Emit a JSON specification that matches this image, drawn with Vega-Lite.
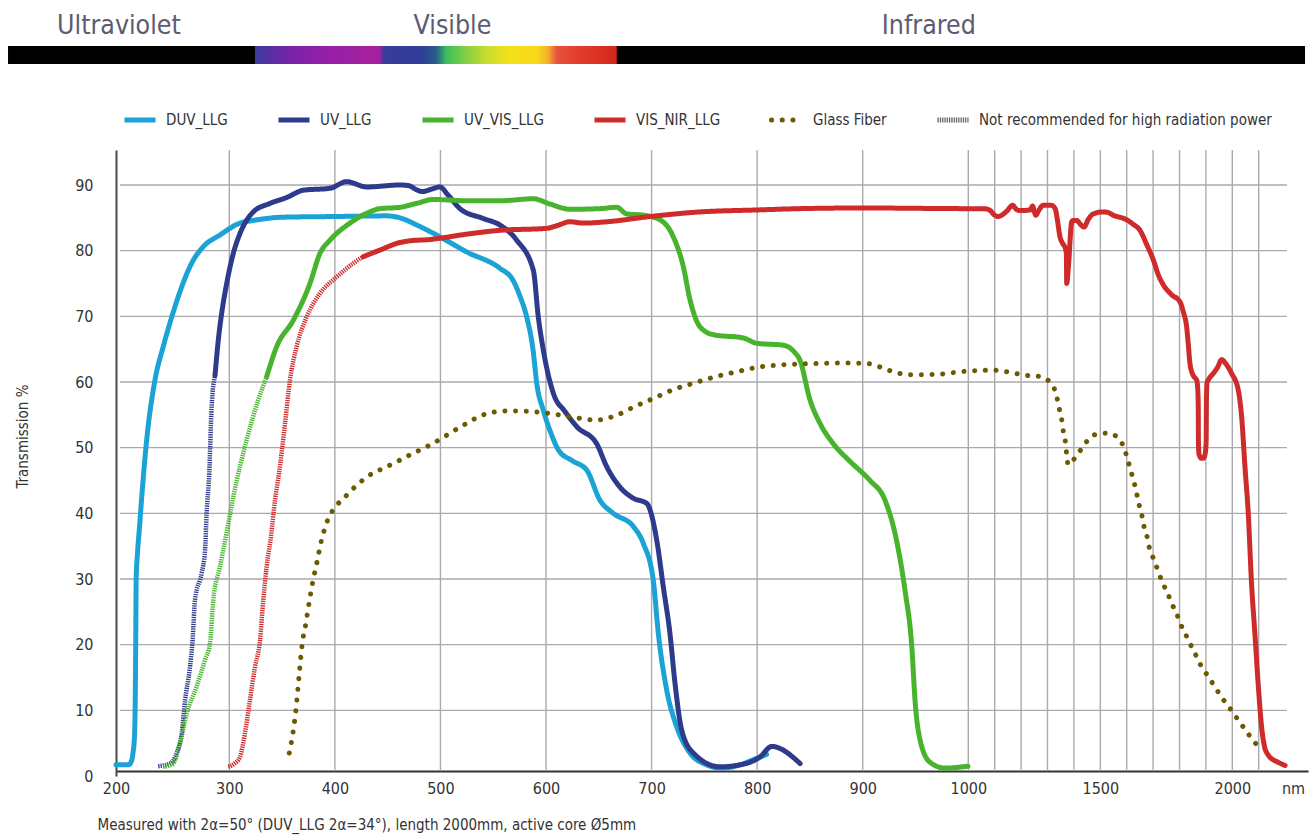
{
  "$schema": "https://vega.github.io/schema/vega-lite/v6.json",
  "autosize": {"type": "none"},
  "padding": {"left": 116, "top": 150, "right": 4, "bottom": 60},
  "width": 1192,
  "height": 626,
  "background": "white",
  "config": {"view": {"stroke": null}},
  "datasets": {
    "gridv": [{"nm":300},{"nm":400},{"nm":500},{"nm":600},{"nm":700},{"nm":800},{"nm":900},{"nm":1000},{"nm":1100},{"nm":1200},{"nm":1300},{"nm":1400},{"nm":1500},{"nm":1600},{"nm":1700},{"nm":1800},{"nm":1900},{"nm":2000},{"nm":2100}],
    "gridh": [{"pct":10},{"pct":20},{"pct":30},{"pct":40},{"pct":50},{"pct":60},{"pct":70},{"pct":80},{"pct":90}],
    "bar": [{"from_nm":104.7,"to_nm":2275.7}],
    "spectrum": [{"from_nm":324.3,"to_nm":667}],
    "regions": [{"label":"Ultraviolet","nm":202.6},{"label":"Visible","nm":511.4},{"label":"Infrared","nm":962.6}],
    "curves": [
      {"series":"DUV_LLG","seg":"solid","nm":200,"pct":1.7},{"series":"DUV_LLG","seg":"solid","nm":211,"pct":1.7},{"series":"DUV_LLG","seg":"solid","nm":213.5,"pct":2.2},{"series":"DUV_LLG","seg":"solid","nm":215,"pct":3.5},{"series":"DUV_LLG","seg":"solid","nm":216.3,"pct":6},{"series":"DUV_LLG","seg":"solid","nm":217,"pct":12},{"series":"DUV_LLG","seg":"solid","nm":217.4,"pct":20},{"series":"DUV_LLG","seg":"solid","nm":217.8,"pct":30},{"series":"DUV_LLG","seg":"solid","nm":219,"pct":34},{"series":"DUV_LLG","seg":"solid","nm":220.8,"pct":38},{"series":"DUV_LLG","seg":"solid","nm":222.5,"pct":42},{"series":"DUV_LLG","seg":"solid","nm":227.1,"pct":51.2},{"series":"DUV_LLG","seg":"solid","nm":234.4,"pct":60.3},{"series":"DUV_LLG","seg":"solid","nm":241.7,"pct":65.4},{"series":"DUV_LLG","seg":"solid","nm":249.2,"pct":69.9},{"series":"DUV_LLG","seg":"solid","nm":258,"pct":74.5},{"series":"DUV_LLG","seg":"solid","nm":266.8,"pct":78.1},{"series":"DUV_LLG","seg":"solid","nm":277,"pct":80.6},{"series":"DUV_LLG","seg":"solid","nm":291.8,"pct":82.4},{"series":"DUV_LLG","seg":"solid","nm":310.1,"pct":84.2},{"series":"DUV_LLG","seg":"solid","nm":322.7,"pct":84.6},{"series":"DUV_LLG","seg":"solid","nm":351.2,"pct":85.1},{"series":"DUV_LLG","seg":"solid","nm":400,"pct":85.2},{"series":"DUV_LLG","seg":"solid","nm":449,"pct":85.3},{"series":"DUV_LLG","seg":"solid","nm":461.4,"pct":85},{"series":"DUV_LLG","seg":"solid","nm":480.3,"pct":83.7},{"series":"DUV_LLG","seg":"solid","nm":499.6,"pct":82.1},{"series":"DUV_LLG","seg":"solid","nm":524.9,"pct":79.8},{"series":"DUV_LLG","seg":"solid","nm":556.4,"pct":77.3},{"series":"DUV_LLG","seg":"solid","nm":568.7,"pct":75.5},{"series":"DUV_LLG","seg":"solid","nm":575.5,"pct":73},{"series":"DUV_LLG","seg":"solid","nm":581.7,"pct":69.9},{"series":"DUV_LLG","seg":"solid","nm":587.7,"pct":64.9},{"series":"DUV_LLG","seg":"solid","nm":591.2,"pct":59.8},{"series":"DUV_LLG","seg":"solid","nm":597.4,"pct":55.7},{"series":"DUV_LLG","seg":"solid","nm":604,"pct":52.5},{"series":"DUV_LLG","seg":"solid","nm":612,"pct":49.6},{"series":"DUV_LLG","seg":"solid","nm":625,"pct":48},{"series":"DUV_LLG","seg":"solid","nm":638.5,"pct":46.6},{"series":"DUV_LLG","seg":"solid","nm":651.1,"pct":42},{"series":"DUV_LLG","seg":"solid","nm":663.7,"pct":40},{"series":"DUV_LLG","seg":"solid","nm":682.7,"pct":38},{"series":"DUV_LLG","seg":"solid","nm":692.2,"pct":35.4},{"series":"DUV_LLG","seg":"solid","nm":701.6,"pct":29.8},{"series":"DUV_LLG","seg":"solid","nm":706.4,"pct":21.7},{"series":"DUV_LLG","seg":"solid","nm":714.3,"pct":13.1},{"series":"DUV_LLG","seg":"solid","nm":723.8,"pct":7.5},{"series":"DUV_LLG","seg":"solid","nm":736.4,"pct":3.5},{"series":"DUV_LLG","seg":"solid","nm":752.2,"pct":1.7},{"series":"DUV_LLG","seg":"solid","nm":766.4,"pct":1.2},{"series":"DUV_LLG","seg":"solid","nm":783.8,"pct":1.7},{"series":"DUV_LLG","seg":"solid","nm":799.6,"pct":2.7},{"series":"DUV_LLG","seg":"solid","nm":809,"pct":3.3},

      {"series":"UV_LLG","seg":"dashed","nm":237.3,"pct":1.5},{"series":"UV_LLG","seg":"dashed","nm":247.7,"pct":1.9},{"series":"UV_LLG","seg":"dashed","nm":253.6,"pct":3.5},{"series":"UV_LLG","seg":"dashed","nm":258,"pct":6.5},{"series":"UV_LLG","seg":"dashed","nm":261,"pct":11.6},{"series":"UV_LLG","seg":"dashed","nm":265.3,"pct":16.6},{"series":"UV_LLG","seg":"dashed","nm":267.6,"pct":20.7},{"series":"UV_LLG","seg":"dashed","nm":269.7,"pct":26.8},{"series":"UV_LLG","seg":"dashed","nm":275.6,"pct":30.9},{"series":"UV_LLG","seg":"dashed","nm":278.6,"pct":34.4},{"series":"UV_LLG","seg":"dashed","nm":280,"pct":40},{"series":"UV_LLG","seg":"dashed","nm":282.3,"pct":46.1},{"series":"UV_LLG","seg":"dashed","nm":284.4,"pct":56.2},{"series":"UV_LLG","seg":"dashed","nm":287.4,"pct":61},
      {"series":"UV_LLG","seg":"solid","nm":287.4,"pct":61},{"series":"UV_LLG","seg":"solid","nm":290.3,"pct":66.4},{"series":"UV_LLG","seg":"solid","nm":293.3,"pct":70.5},{"series":"UV_LLG","seg":"solid","nm":297.7,"pct":75},{"series":"UV_LLG","seg":"solid","nm":303.8,"pct":79.6},{"series":"UV_LLG","seg":"solid","nm":310.1,"pct":82.6},{"series":"UV_LLG","seg":"solid","nm":322.7,"pct":85.9},{"series":"UV_LLG","seg":"solid","nm":338.6,"pct":87.2},{"series":"UV_LLG","seg":"solid","nm":354.4,"pct":88.1},{"series":"UV_LLG","seg":"solid","nm":370.1,"pct":89.2},{"series":"UV_LLG","seg":"solid","nm":395.4,"pct":89.5},{"series":"UV_LLG","seg":"solid","nm":411.2,"pct":90.5},{"series":"UV_LLG","seg":"solid","nm":430.2,"pct":89.7},{"series":"UV_LLG","seg":"solid","nm":461.7,"pct":90},{"series":"UV_LLG","seg":"solid","nm":470,"pct":89.9},{"series":"UV_LLG","seg":"solid","nm":477,"pct":89.3},{"series":"UV_LLG","seg":"solid","nm":483,"pct":89},{"series":"UV_LLG","seg":"solid","nm":492,"pct":89.4},{"series":"UV_LLG","seg":"solid","nm":499.6,"pct":89.7},{"series":"UV_LLG","seg":"solid","nm":507,"pct":88.5},{"series":"UV_LLG","seg":"solid","nm":518.5,"pct":86.4},{"series":"UV_LLG","seg":"solid","nm":540.6,"pct":84.9},{"series":"UV_LLG","seg":"solid","nm":556.4,"pct":83.9},{"series":"UV_LLG","seg":"solid","nm":572.2,"pct":81.6},{"series":"UV_LLG","seg":"solid","nm":588,"pct":77},{"series":"UV_LLG","seg":"solid","nm":592.7,"pct":69.9},{"series":"UV_LLG","seg":"solid","nm":597.4,"pct":64.9},{"series":"UV_LLG","seg":"solid","nm":606.9,"pct":58.3},{"series":"UV_LLG","seg":"solid","nm":618,"pct":55.5},{"series":"UV_LLG","seg":"solid","nm":629.1,"pct":53.2},{"series":"UV_LLG","seg":"solid","nm":648,"pct":50.6},{"series":"UV_LLG","seg":"solid","nm":657.5,"pct":47.1},{"series":"UV_LLG","seg":"solid","nm":670,"pct":44},{"series":"UV_LLG","seg":"solid","nm":682.7,"pct":42.3},{"series":"UV_LLG","seg":"solid","nm":695.4,"pct":41.5},{"series":"UV_LLG","seg":"solid","nm":704.9,"pct":35.9},{"series":"UV_LLG","seg":"solid","nm":711.1,"pct":28.8},{"series":"UV_LLG","seg":"solid","nm":717.4,"pct":21.7},{"series":"UV_LLG","seg":"solid","nm":722.2,"pct":14.1},{"series":"UV_LLG","seg":"solid","nm":728.5,"pct":7},{"series":"UV_LLG","seg":"solid","nm":739.5,"pct":3.5},{"series":"UV_LLG","seg":"solid","nm":764.8,"pct":1.4},{"series":"UV_LLG","seg":"solid","nm":783.8,"pct":1.7},{"series":"UV_LLG","seg":"solid","nm":802.7,"pct":2.9},{"series":"UV_LLG","seg":"solid","nm":813.8,"pct":4.5},{"series":"UV_LLG","seg":"solid","nm":840.7,"pct":1.9},

      {"series":"UV_VIS_LLG","seg":"dashed","nm":241.7,"pct":1.4},{"series":"UV_VIS_LLG","seg":"dashed","nm":250,"pct":1.8},{"series":"UV_VIS_LLG","seg":"dashed","nm":256.5,"pct":5},{"series":"UV_VIS_LLG","seg":"dashed","nm":262.4,"pct":9.5},{"series":"UV_VIS_LLG","seg":"dashed","nm":271.1,"pct":13.6},{"series":"UV_VIS_LLG","seg":"dashed","nm":278.6,"pct":17.7},{"series":"UV_VIS_LLG","seg":"dashed","nm":283,"pct":20.2},{"series":"UV_VIS_LLG","seg":"dashed","nm":285.9,"pct":26.8},{"series":"UV_VIS_LLG","seg":"dashed","nm":291.8,"pct":31.9},{"series":"UV_VIS_LLG","seg":"dashed","nm":299.2,"pct":38.5},{"series":"UV_VIS_LLG","seg":"dashed","nm":303.8,"pct":42.5},{"series":"UV_VIS_LLG","seg":"dashed","nm":316.5,"pct":51.2},{"series":"UV_VIS_LLG","seg":"dashed","nm":327.5,"pct":57.3},{"series":"UV_VIS_LLG","seg":"dashed","nm":335.4,"pct":60.8},
      {"series":"UV_VIS_LLG","seg":"solid","nm":335.4,"pct":60.8},{"series":"UV_VIS_LLG","seg":"solid","nm":344.9,"pct":65.4},{"series":"UV_VIS_LLG","seg":"solid","nm":360.6,"pct":69.4},{"series":"UV_VIS_LLG","seg":"solid","nm":376.4,"pct":75},{"series":"UV_VIS_LLG","seg":"solid","nm":385.9,"pct":79.6},{"series":"UV_VIS_LLG","seg":"solid","nm":395.4,"pct":81.6},{"series":"UV_VIS_LLG","seg":"solid","nm":414.3,"pct":84.2},{"series":"UV_VIS_LLG","seg":"solid","nm":430.2,"pct":85.7},{"series":"UV_VIS_LLG","seg":"solid","nm":442.8,"pct":86.4},{"series":"UV_VIS_LLG","seg":"solid","nm":461.7,"pct":86.6},{"series":"UV_VIS_LLG","seg":"solid","nm":477.5,"pct":87.2},{"series":"UV_VIS_LLG","seg":"solid","nm":493.3,"pct":87.8},{"series":"UV_VIS_LLG","seg":"solid","nm":524.9,"pct":87.6},{"series":"UV_VIS_LLG","seg":"solid","nm":556.4,"pct":87.6},{"series":"UV_VIS_LLG","seg":"solid","nm":588,"pct":87.9},{"series":"UV_VIS_LLG","seg":"solid","nm":603.8,"pct":87.1},{"series":"UV_VIS_LLG","seg":"solid","nm":622.7,"pct":86.3},{"series":"UV_VIS_LLG","seg":"solid","nm":651.1,"pct":86.4},{"series":"UV_VIS_LLG","seg":"solid","nm":666.9,"pct":86.6},{"series":"UV_VIS_LLG","seg":"solid","nm":676.4,"pct":85.6},{"series":"UV_VIS_LLG","seg":"solid","nm":692.2,"pct":85.4},{"series":"UV_VIS_LLG","seg":"solid","nm":708,"pct":84.7},{"series":"UV_VIS_LLG","seg":"solid","nm":720.6,"pct":82.1},{"series":"UV_VIS_LLG","seg":"solid","nm":730,"pct":77.6},{"series":"UV_VIS_LLG","seg":"solid","nm":736.4,"pct":72.5},{"series":"UV_VIS_LLG","seg":"solid","nm":745.9,"pct":68.4},{"series":"UV_VIS_LLG","seg":"solid","nm":758.5,"pct":67.2},{"series":"UV_VIS_LLG","seg":"solid","nm":786.9,"pct":66.7},{"series":"UV_VIS_LLG","seg":"solid","nm":799.6,"pct":65.9},{"series":"UV_VIS_LLG","seg":"solid","nm":824.8,"pct":65.6},{"series":"UV_VIS_LLG","seg":"solid","nm":835,"pct":64.6},{"series":"UV_VIS_LLG","seg":"solid","nm":840.6,"pct":63.3},{"series":"UV_VIS_LLG","seg":"solid","nm":850,"pct":57.3},{"series":"UV_VIS_LLG","seg":"solid","nm":859.5,"pct":53.7},{"series":"UV_VIS_LLG","seg":"solid","nm":872.1,"pct":50.6},{"series":"UV_VIS_LLG","seg":"solid","nm":888,"pct":47.9},{"series":"UV_VIS_LLG","seg":"solid","nm":906.9,"pct":45},{"series":"UV_VIS_LLG","seg":"solid","nm":921.1,"pct":42},{"series":"UV_VIS_LLG","seg":"solid","nm":932.5,"pct":35.5},{"series":"UV_VIS_LLG","seg":"solid","nm":940,"pct":28.3},{"series":"UV_VIS_LLG","seg":"solid","nm":946.7,"pct":19.2},{"series":"UV_VIS_LLG","seg":"solid","nm":949.5,"pct":11.6},{"series":"UV_VIS_LLG","seg":"solid","nm":954.3,"pct":5.5},{"series":"UV_VIS_LLG","seg":"solid","nm":963.7,"pct":2.1},{"series":"UV_VIS_LLG","seg":"solid","nm":977.9,"pct":1.2},{"series":"UV_VIS_LLG","seg":"solid","nm":999.7,"pct":1.5},

      {"series":"VIS_NIR_LLG","seg":"dashed","nm":299.1,"pct":1.4},{"series":"VIS_NIR_LLG","seg":"dashed","nm":305,"pct":1.9},{"series":"VIS_NIR_LLG","seg":"dashed","nm":310.1,"pct":2.9},{"series":"VIS_NIR_LLG","seg":"dashed","nm":314.8,"pct":6.5},{"series":"VIS_NIR_LLG","seg":"dashed","nm":319.6,"pct":11.6},{"series":"VIS_NIR_LLG","seg":"dashed","nm":324.3,"pct":16.6},{"series":"VIS_NIR_LLG","seg":"dashed","nm":329.1,"pct":20.7},{"series":"VIS_NIR_LLG","seg":"dashed","nm":332.2,"pct":26.8},{"series":"VIS_NIR_LLG","seg":"dashed","nm":335.4,"pct":31.9},{"series":"VIS_NIR_LLG","seg":"dashed","nm":339.5,"pct":36.5},{"series":"VIS_NIR_LLG","seg":"dashed","nm":343.3,"pct":42},{"series":"VIS_NIR_LLG","seg":"dashed","nm":347.1,"pct":46.1},{"series":"VIS_NIR_LLG","seg":"dashed","nm":352.8,"pct":53.7},{"series":"VIS_NIR_LLG","seg":"dashed","nm":357.5,"pct":60.3},{"series":"VIS_NIR_LLG","seg":"dashed","nm":363.8,"pct":65.4},{"series":"VIS_NIR_LLG","seg":"dashed","nm":373.3,"pct":69.9},{"series":"VIS_NIR_LLG","seg":"dashed","nm":385.9,"pct":73.5},{"series":"VIS_NIR_LLG","seg":"dashed","nm":401.7,"pct":76},{"series":"VIS_NIR_LLG","seg":"dashed","nm":417.5,"pct":78.1},{"series":"VIS_NIR_LLG","seg":"dashed","nm":427,"pct":79.1},
      {"series":"VIS_NIR_LLG","seg":"solid","nm":427,"pct":79.1},{"series":"VIS_NIR_LLG","seg":"solid","nm":442.8,"pct":80.1},{"series":"VIS_NIR_LLG","seg":"solid","nm":458.6,"pct":81.1},{"series":"VIS_NIR_LLG","seg":"solid","nm":471.2,"pct":81.5},{"series":"VIS_NIR_LLG","seg":"solid","nm":490,"pct":81.7},{"series":"VIS_NIR_LLG","seg":"solid","nm":500,"pct":81.9},{"series":"VIS_NIR_LLG","seg":"solid","nm":520,"pct":82.4},{"series":"VIS_NIR_LLG","seg":"solid","nm":556.4,"pct":83.1},{"series":"VIS_NIR_LLG","seg":"solid","nm":600.7,"pct":83.4},{"series":"VIS_NIR_LLG","seg":"solid","nm":610.1,"pct":83.8},{"series":"VIS_NIR_LLG","seg":"solid","nm":622.7,"pct":84.4},{"series":"VIS_NIR_LLG","seg":"solid","nm":635.3,"pct":84.2},{"series":"VIS_NIR_LLG","seg":"solid","nm":657.5,"pct":84.4},{"series":"VIS_NIR_LLG","seg":"solid","nm":698.5,"pct":85.2},{"series":"VIS_NIR_LLG","seg":"solid","nm":745.9,"pct":85.9},{"series":"VIS_NIR_LLG","seg":"solid","nm":800,"pct":86.2},{"series":"VIS_NIR_LLG","seg":"solid","nm":840.6,"pct":86.4},{"series":"VIS_NIR_LLG","seg":"solid","nm":900,"pct":86.5},{"series":"VIS_NIR_LLG","seg":"solid","nm":1000,"pct":86.4},{"series":"VIS_NIR_LLG","seg":"solid","nm":1056.8,"pct":86.4},{"series":"VIS_NIR_LLG","seg":"solid","nm":1080,"pct":86.2},{"series":"VIS_NIR_LLG","seg":"solid","nm":1100,"pct":85.4},{"series":"VIS_NIR_LLG","seg":"solid","nm":1113.6,"pct":85.2},{"series":"VIS_NIR_LLG","seg":"solid","nm":1130,"pct":85.5},{"series":"VIS_NIR_LLG","seg":"solid","nm":1145.5,"pct":86},{"series":"VIS_NIR_LLG","seg":"solid","nm":1168,"pct":86.9},{"series":"VIS_NIR_LLG","seg":"solid","nm":1182,"pct":86.3},{"series":"VIS_NIR_LLG","seg":"solid","nm":1195.8,"pct":86.1},{"series":"VIS_NIR_LLG","seg":"solid","nm":1233.7,"pct":86.2},{"series":"VIS_NIR_LLG","seg":"solid","nm":1243.9,"pct":86.8},{"series":"VIS_NIR_LLG","seg":"solid","nm":1250,"pct":85.9},{"series":"VIS_NIR_LLG","seg":"solid","nm":1256.4,"pct":85.4},{"series":"VIS_NIR_LLG","seg":"solid","nm":1265,"pct":86},{"series":"VIS_NIR_LLG","seg":"solid","nm":1284,"pct":86.9},{"series":"VIS_NIR_LLG","seg":"solid","nm":1315.9,"pct":86.9},{"series":"VIS_NIR_LLG","seg":"solid","nm":1330,"pct":86.3},{"series":"VIS_NIR_LLG","seg":"solid","nm":1337,"pct":84.8},{"series":"VIS_NIR_LLG","seg":"solid","nm":1347.3,"pct":82.1},{"series":"VIS_NIR_LLG","seg":"solid","nm":1357.6,"pct":81.1},{"series":"VIS_NIR_LLG","seg":"solid","nm":1368,"pct":80.3},{"series":"VIS_NIR_LLG","seg":"solid","nm":1371.5,"pct":79.5},{"series":"VIS_NIR_LLG","seg":"solid","nm":1372.7,"pct":75},{"series":"VIS_NIR_LLG","seg":"solid","nm":1380,"pct":78},{"series":"VIS_NIR_LLG","seg":"solid","nm":1391.7,"pct":84.4},{"series":"VIS_NIR_LLG","seg":"solid","nm":1398,"pct":84.6},{"series":"VIS_NIR_LLG","seg":"solid","nm":1410.6,"pct":84.6},{"series":"VIS_NIR_LLG","seg":"solid","nm":1425,"pct":84},{"series":"VIS_NIR_LLG","seg":"solid","nm":1438.3,"pct":83.6},{"series":"VIS_NIR_LLG","seg":"solid","nm":1455,"pct":84.8},{"series":"VIS_NIR_LLG","seg":"solid","nm":1473.5,"pct":85.6},{"series":"VIS_NIR_LLG","seg":"solid","nm":1511.4,"pct":85.9},{"series":"VIS_NIR_LLG","seg":"solid","nm":1530,"pct":85.8},{"series":"VIS_NIR_LLG","seg":"solid","nm":1549.2,"pct":85.4},{"series":"VIS_NIR_LLG","seg":"solid","nm":1600,"pct":84.7},{"series":"VIS_NIR_LLG","seg":"solid","nm":1625,"pct":84},{"series":"VIS_NIR_LLG","seg":"solid","nm":1650.4,"pct":83.1},{"series":"VIS_NIR_LLG","seg":"solid","nm":1675,"pct":81},{"series":"VIS_NIR_LLG","seg":"solid","nm":1700.8,"pct":78.6},{"series":"VIS_NIR_LLG","seg":"solid","nm":1720,"pct":76.3},{"series":"VIS_NIR_LLG","seg":"solid","nm":1738.6,"pct":74.8},{"series":"VIS_NIR_LLG","seg":"solid","nm":1770,"pct":73.3},{"series":"VIS_NIR_LLG","seg":"solid","nm":1801.8,"pct":72.2},{"series":"VIS_NIR_LLG","seg":"solid","nm":1815,"pct":70.6},{"series":"VIS_NIR_LLG","seg":"solid","nm":1827,"pct":68.4},{"series":"VIS_NIR_LLG","seg":"solid","nm":1833,"pct":65.9},{"series":"VIS_NIR_LLG","seg":"solid","nm":1839.6,"pct":62.8},{"series":"VIS_NIR_LLG","seg":"solid","nm":1846,"pct":61.6},{"series":"VIS_NIR_LLG","seg":"solid","nm":1855,"pct":60.8},{"series":"VIS_NIR_LLG","seg":"solid","nm":1864.9,"pct":60.3},{"series":"VIS_NIR_LLG","seg":"solid","nm":1869,"pct":59},{"series":"VIS_NIR_LLG","seg":"solid","nm":1871,"pct":56.5},{"series":"VIS_NIR_LLG","seg":"solid","nm":1871.6,"pct":51},{"series":"VIS_NIR_LLG","seg":"solid","nm":1874,"pct":49},{"series":"VIS_NIR_LLG","seg":"solid","nm":1882,"pct":48.4},{"series":"VIS_NIR_LLG","seg":"solid","nm":1890,"pct":48.4},{"series":"VIS_NIR_LLG","seg":"solid","nm":1897,"pct":49},{"series":"VIS_NIR_LLG","seg":"solid","nm":1901,"pct":51},{"series":"VIS_NIR_LLG","seg":"solid","nm":1902,"pct":57},{"series":"VIS_NIR_LLG","seg":"solid","nm":1904,"pct":59.8},{"series":"VIS_NIR_LLG","seg":"solid","nm":1912,"pct":60.5},{"series":"VIS_NIR_LLG","seg":"solid","nm":1928,"pct":61.3},{"series":"VIS_NIR_LLG","seg":"solid","nm":1945,"pct":62.3},{"series":"VIS_NIR_LLG","seg":"solid","nm":1959.6,"pct":63.4},{"series":"VIS_NIR_LLG","seg":"solid","nm":1975,"pct":62.8},{"series":"VIS_NIR_LLG","seg":"solid","nm":1997.5,"pct":61.3},{"series":"VIS_NIR_LLG","seg":"solid","nm":2022.5,"pct":58.8},{"series":"VIS_NIR_LLG","seg":"solid","nm":2035.4,"pct":54.7},{"series":"VIS_NIR_LLG","seg":"solid","nm":2048,"pct":47.1},{"series":"VIS_NIR_LLG","seg":"solid","nm":2060.5,"pct":40},{"series":"VIS_NIR_LLG","seg":"solid","nm":2073,"pct":29.3},{"series":"VIS_NIR_LLG","seg":"solid","nm":2085.6,"pct":21.7},{"series":"VIS_NIR_LLG","seg":"solid","nm":2098,"pct":14.1},{"series":"VIS_NIR_LLG","seg":"solid","nm":2111,"pct":7.5},{"series":"VIS_NIR_LLG","seg":"solid","nm":2122,"pct":4.5},{"series":"VIS_NIR_LLG","seg":"solid","nm":2136,"pct":3.2},{"series":"VIS_NIR_LLG","seg":"solid","nm":2150,"pct":2.6},{"series":"VIS_NIR_LLG","seg":"solid","nm":2168,"pct":2.2},{"series":"VIS_NIR_LLG","seg":"solid","nm":2200,"pct":1.6},

      {"series":"Glass Fiber","seg":"solid","nm":356.8,"pct":3.5},{"series":"Glass Fiber","seg":"solid","nm":360.6,"pct":6.9},{"series":"Glass Fiber","seg":"solid","nm":363.2,"pct":10.2},{"series":"Glass Fiber","seg":"solid","nm":366,"pct":15.1},{"series":"Glass Fiber","seg":"solid","nm":369.1,"pct":20.2},{"series":"Glass Fiber","seg":"solid","nm":372.4,"pct":23.1},{"series":"Glass Fiber","seg":"solid","nm":375.5,"pct":26.3},{"series":"Glass Fiber","seg":"solid","nm":379,"pct":29.5},{"series":"Glass Fiber","seg":"solid","nm":383.1,"pct":32.6},{"series":"Glass Fiber","seg":"solid","nm":387.2,"pct":35.8},{"series":"Glass Fiber","seg":"solid","nm":392.3,"pct":38.6},{"series":"Glass Fiber","seg":"solid","nm":396.3,"pct":40},{"series":"Glass Fiber","seg":"solid","nm":402.7,"pct":41.4},{"series":"Glass Fiber","seg":"solid","nm":409.6,"pct":42.5},{"series":"Glass Fiber","seg":"solid","nm":417.5,"pct":43.8},{"series":"Glass Fiber","seg":"solid","nm":431.7,"pct":45.7},{"series":"Glass Fiber","seg":"solid","nm":450.6,"pct":47.2},{"series":"Glass Fiber","seg":"solid","nm":461.7,"pct":48.1},{"series":"Glass Fiber","seg":"solid","nm":471.2,"pct":48.9},{"series":"Glass Fiber","seg":"solid","nm":480,"pct":49.6},{"series":"Glass Fiber","seg":"solid","nm":490.1,"pct":50.4},{"series":"Glass Fiber","seg":"solid","nm":516.3,"pct":52.9},{"series":"Glass Fiber","seg":"solid","nm":544.4,"pct":55.2},{"series":"Glass Fiber","seg":"solid","nm":564.3,"pct":55.6},{"series":"Glass Fiber","seg":"solid","nm":586.4,"pct":55.5},{"series":"Glass Fiber","seg":"solid","nm":607.9,"pct":55.1},{"series":"Glass Fiber","seg":"solid","nm":626.8,"pct":54.6},{"series":"Glass Fiber","seg":"solid","nm":647.4,"pct":54.2},{"series":"Glass Fiber","seg":"solid","nm":666.3,"pct":54.9},{"series":"Glass Fiber","seg":"solid","nm":684.6,"pct":56.3},{"series":"Glass Fiber","seg":"solid","nm":703.2,"pct":57.6},{"series":"Glass Fiber","seg":"solid","nm":721.5,"pct":58.9},{"series":"Glass Fiber","seg":"solid","nm":739.5,"pct":59.8},{"series":"Glass Fiber","seg":"solid","nm":760.4,"pct":60.8},{"series":"Glass Fiber","seg":"solid","nm":781.6,"pct":61.6},{"series":"Glass Fiber","seg":"solid","nm":802.7,"pct":62.3},{"series":"Glass Fiber","seg":"solid","nm":821.6,"pct":62.6},{"series":"Glass Fiber","seg":"solid","nm":832.7,"pct":62.7},{"series":"Glass Fiber","seg":"solid","nm":855,"pct":62.8},{"series":"Glass Fiber","seg":"solid","nm":880,"pct":62.9},{"series":"Glass Fiber","seg":"solid","nm":905,"pct":62.8},{"series":"Glass Fiber","seg":"solid","nm":918,"pct":62.2},{"series":"Glass Fiber","seg":"solid","nm":932,"pct":61.4},{"series":"Glass Fiber","seg":"solid","nm":950,"pct":61.1},{"series":"Glass Fiber","seg":"solid","nm":973.2,"pct":61.2},{"series":"Glass Fiber","seg":"solid","nm":984.3,"pct":61.4},{"series":"Glass Fiber","seg":"solid","nm":994.7,"pct":61.6},{"series":"Glass Fiber","seg":"solid","nm":1015,"pct":61.7},{"series":"Glass Fiber","seg":"solid","nm":1054.5,"pct":61.8},{"series":"Glass Fiber","seg":"solid","nm":1094.7,"pct":61.8},{"series":"Glass Fiber","seg":"solid","nm":1139,"pct":61.6},{"series":"Glass Fiber","seg":"solid","nm":1179.5,"pct":61.3},{"series":"Glass Fiber","seg":"solid","nm":1218.6,"pct":61},{"series":"Glass Fiber","seg":"solid","nm":1261,"pct":60.9},{"series":"Glass Fiber","seg":"solid","nm":1300.8,"pct":60.3},{"series":"Glass Fiber","seg":"solid","nm":1325.8,"pct":59},{"series":"Glass Fiber","seg":"solid","nm":1337,"pct":57.4},{"series":"Glass Fiber","seg":"solid","nm":1346,"pct":55.7},{"series":"Glass Fiber","seg":"solid","nm":1355,"pct":54},{"series":"Glass Fiber","seg":"solid","nm":1361,"pct":52.2},{"series":"Glass Fiber","seg":"solid","nm":1369,"pct":50.5},{"series":"Glass Fiber","seg":"solid","nm":1372.7,"pct":48.8},{"series":"Glass Fiber","seg":"solid","nm":1378.8,"pct":47.4},{"series":"Glass Fiber","seg":"solid","nm":1405,"pct":48.5},{"series":"Glass Fiber","seg":"solid","nm":1431.8,"pct":50},{"series":"Glass Fiber","seg":"solid","nm":1461,"pct":51.5},{"series":"Glass Fiber","seg":"solid","nm":1491,"pct":52.1},{"series":"Glass Fiber","seg":"solid","nm":1528,"pct":52.2},{"series":"Glass Fiber","seg":"solid","nm":1562,"pct":51.7},{"series":"Glass Fiber","seg":"solid","nm":1583,"pct":50.6},{"series":"Glass Fiber","seg":"solid","nm":1597,"pct":49.1},{"series":"Glass Fiber","seg":"solid","nm":1608.7,"pct":47.5},{"series":"Glass Fiber","seg":"solid","nm":1619,"pct":46},{"series":"Glass Fiber","seg":"solid","nm":1630,"pct":44.4},{"series":"Glass Fiber","seg":"solid","nm":1639,"pct":42.8},{"series":"Glass Fiber","seg":"solid","nm":1647.7,"pct":41.2},{"series":"Glass Fiber","seg":"solid","nm":1658,"pct":39.6},{"series":"Glass Fiber","seg":"solid","nm":1665.5,"pct":38},{"series":"Glass Fiber","seg":"solid","nm":1675.8,"pct":36.7},{"series":"Glass Fiber","seg":"solid","nm":1683,"pct":35.2},{"series":"Glass Fiber","seg":"solid","nm":1695.8,"pct":33.7},{"series":"Glass Fiber","seg":"solid","nm":1711,"pct":32.1},{"series":"Glass Fiber","seg":"solid","nm":1723.5,"pct":30.7},{"series":"Glass Fiber","seg":"solid","nm":1740,"pct":29.1},{"series":"Glass Fiber","seg":"solid","nm":1756.4,"pct":27.7},{"series":"Glass Fiber","seg":"solid","nm":1772.7,"pct":26.1},{"series":"Glass Fiber","seg":"solid","nm":1789.4,"pct":24.7},{"series":"Glass Fiber","seg":"solid","nm":1804.5,"pct":23.1},{"series":"Glass Fiber","seg":"solid","nm":1822,"pct":21.7},{"series":"Glass Fiber","seg":"solid","nm":1838.6,"pct":20.2},{"series":"Glass Fiber","seg":"solid","nm":1853.8,"pct":19.2},{"series":"Glass Fiber","seg":"solid","nm":1869,"pct":17.7},{"series":"Glass Fiber","seg":"solid","nm":1891.7,"pct":16.2},{"series":"Glass Fiber","seg":"solid","nm":1914.4,"pct":14.8},{"series":"Glass Fiber","seg":"solid","nm":1937,"pct":13.4},{"series":"Glass Fiber","seg":"solid","nm":1961,"pct":11.9},{"series":"Glass Fiber","seg":"solid","nm":1986,"pct":10.6},{"series":"Glass Fiber","seg":"solid","nm":2010.6,"pct":9.2},{"series":"Glass Fiber","seg":"solid","nm":2035.6,"pct":7.8},{"series":"Glass Fiber","seg":"solid","nm":2060.6,"pct":6.4},{"series":"Glass Fiber","seg":"solid","nm":2085.6,"pct":5.1},{"series":"Glass Fiber","seg":"solid","nm":2107.6,"pct":4}
    ]
  },
  "layer": [
    {
      "data": {"name": "gridv"},
      "mark": {"type": "rule", "color": "#aaaaae", "strokeWidth": 1.4},
      "encoding": {
        "x": {"field": "nm", "type": "quantitative", "scale": {"domain": [200,300,1000,2000,2287], "range": [0,113.3,852.3,1116.3,1192], "nice": false, "zero": false},
          "axis": {"values": [200,300,400,500,600,700,800,900,1000,1500,2000,2230], "format": "d", "labelExpr": "datum.value == 2230 ? 'nm' : datum.label", "grid": false, "ticks": false, "tickSize": 0, "domainColor": "#333333", "domainWidth": 2, "offset": -5, "labelPadding": 9, "labelFont": "Liberation Sans Narrow, DejaVu Sans Condensed, sans-serif", "labelFontSize": 16, "labelColor": "#333333", "labelOverlap": false, "labelFlush": false,
            "title": "Measured with 2α=50° (DUV_LLG 2α=34°), length 2000mm, active core Ø5mm", "titleFont": "Liberation Sans Narrow, DejaVu Sans Condensed, sans-serif", "titleFontSize": 15, "titleFontWeight": "normal", "titleColor": "#333333", "titleAnchor": "start", "titleAlign": "left", "titleBaseline": "middle", "titleX": -19, "titleY": 53}},
        "y": {"datum": 0.76, "type": "quantitative", "scale": {"domain": [0, 95.33], "nice": false, "zero": false},
          "axis": {"values": [0,10,20,30,40,50,60,70,80,90], "grid": false, "ticks": false, "tickSize": 0, "domainColor": "#4a4a4a", "domainWidth": 2, "labelPadding": 23, "labelFont": "Liberation Sans Narrow, DejaVu Sans Condensed, sans-serif", "labelFontSize": 16, "labelColor": "#333333",
            "title": "Transmission %", "titleFont": "Liberation Sans Narrow, DejaVu Sans Condensed, sans-serif", "titleFontSize": 15, "titleFontWeight": "normal", "titleColor": "#333333", "titleX": -94, "titleY": 286, "titleAlign": "center", "titleBaseline": "middle"}},
        "y2": {"datum": 95.33}
      }
    },
    {
      "data": {"name": "gridh"},
      "mark": {"type": "rule", "color": "#aaaaae", "strokeWidth": 1.4},
      "encoding": {
        "y": {"field": "pct", "type": "quantitative", "scale": {"domain": [0, 95.33], "nice": false, "zero": false}},
        "x": {"datum": 203.5, "type": "quantitative", "scale": {"domain": [200,300,1000,2000,2287], "range": [0,113.3,852.3,1116.3,1192], "nice": false, "zero": false}},
        "x2": {"datum": 2207}
      }
    },
    {
      "data": {"name": "bar"},
      "mark": {"type": "rect", "color": "#000000", "clip": false},
      "encoding": {
        "x": {"field": "from_nm", "type": "quantitative", "scale": {"domain": [200,300,1000,2000,2287], "range": [0,113.3,852.3,1116.3,1192], "nice": false, "zero": false}},
        "x2": {"field": "to_nm"},
        "y": {"datum": 108.43, "type": "quantitative", "scale": {"domain": [0, 95.33], "nice": false, "zero": false}},
        "y2": {"datum": 111.17}
      }
    },
    {
      "data": {"name": "spectrum"},
      "mark": {"type": "rect", "clip": false, "fill": {"gradient": "linear", "x1": 0, "y1": 0, "x2": 1, "y2": 0, "stops": [
        {"offset": 0, "color": "#3b3b9e"},
        {"offset": 0.1, "color": "#7a22a8"},
        {"offset": 0.2, "color": "#9520a8"},
        {"offset": 0.33, "color": "#a8209e"},
        {"offset": 0.345, "color": "#a0229c"},
        {"offset": 0.356, "color": "#3a3a9c"},
        {"offset": 0.46, "color": "#2f3f98"},
        {"offset": 0.5, "color": "#2a5a8c"},
        {"offset": 0.53, "color": "#3cbf5a"},
        {"offset": 0.58, "color": "#80cf44"},
        {"offset": 0.64, "color": "#c8dc30"},
        {"offset": 0.7, "color": "#f2e21a"},
        {"offset": 0.78, "color": "#f8d818"},
        {"offset": 0.81, "color": "#f3b02a"},
        {"offset": 0.835, "color": "#e8503e"},
        {"offset": 0.9, "color": "#e23b2d"},
        {"offset": 1, "color": "#d4261a"}
      ]}},
      "encoding": {
        "x": {"field": "from_nm", "type": "quantitative", "scale": {"domain": [200,300,1000,2000,2287], "range": [0,113.3,852.3,1116.3,1192], "nice": false, "zero": false}},
        "x2": {"field": "to_nm"},
        "y": {"datum": 108.43, "type": "quantitative", "scale": {"domain": [0, 95.33], "nice": false, "zero": false}},
        "y2": {"datum": 111.17}
      }
    },
    {
      "data": {"name": "regions"},
      "mark": {"type": "text", "clip": false, "font": "Liberation Sans Narrow, DejaVu Sans Condensed, sans-serif", "fontSize": 26.5, "color": "#5d5b72", "align": "center", "baseline": "middle"},
      "encoding": {
        "x": {"field": "nm", "type": "quantitative", "scale": {"domain": [200,300,1000,2000,2287], "range": [0,113.3,852.3,1116.3,1192], "nice": false, "zero": false}},
        "y": {"datum": 114.2, "type": "quantitative", "scale": {"domain": [0, 95.33], "nice": false, "zero": false}},
        "text": {"field": "label"}
      }
    },
    {
      "data": {"name": "curves"},
      "transform": [{"filter": "datum.seg == 'solid'"}],
      "mark": {"type": "line", "clip": false, "strokeWidth": 5, "strokeCap": "round", "strokeJoin": "round", "interpolate": "monotone"},
      "encoding": {
        "x": {"field": "nm", "type": "quantitative", "scale": {"domain": [200,300,1000,2000,2287], "range": [0,113.3,852.3,1116.3,1192], "nice": false, "zero": false}},
        "y": {"field": "pct", "type": "quantitative", "scale": {"domain": [0, 95.33], "nice": false, "zero": false}},
        "color": {"field": "series", "type": "nominal",
          "scale": {"domain": ["DUV_LLG","UV_LLG","UV_VIS_LLG","VIS_NIR_LLG","Glass Fiber","Not recommended for high radiation power"], "range": ["#1ba3d6","#2e3a8c","#48b42e","#cf2b2b","#6b5a00","#666666"]},
          "legend": {"orient": "none", "legendX": 6, "legendY": -48, "direction": "horizontal", "columns": 6, "title": null, "padding": 0, "symbolType": "stroke", "symbolSize": 961, "symbolStrokeWidth": 5, "labelOffset": 8, "columnPadding": 40, "labelFont": "Liberation Sans Narrow, DejaVu Sans Condensed, sans-serif", "labelFontSize": 15, "labelColor": "#333333", "labelLimit": 400,
            "encode": {"symbols": {"update": {"strokeCap": {"signal": "datum.value === 'Glass Fiber' ? 'round' : 'butt'"}}}}}},
        "strokeDash": {"field": "series", "type": "nominal",
          "scale": {"domain": ["DUV_LLG","UV_LLG","UV_VIS_LLG","VIS_NIR_LLG","Glass Fiber","Not recommended for high radiation power"], "range": [[1,0],[1,0],[1,0],[1,0],[0.1,10.6],[1.3,1]]},
          "legend": {"orient": "none", "legendX": 6, "legendY": -48, "direction": "horizontal", "columns": 6, "title": null, "padding": 0, "symbolType": "stroke", "symbolSize": 961, "symbolStrokeWidth": 5, "labelOffset": 8, "columnPadding": 40, "labelFont": "Liberation Sans Narrow, DejaVu Sans Condensed, sans-serif", "labelFontSize": 15, "labelColor": "#333333", "labelLimit": 400,
            "encode": {"symbols": {"update": {"strokeCap": {"signal": "datum.value === 'Glass Fiber' ? 'round' : 'butt'"}}}}}}
      }
    },
    {
      "data": {"name": "curves"},
      "transform": [{"filter": "datum.seg == 'dashed'"}],
      "mark": {"type": "line", "clip": false, "strokeWidth": 4.5, "strokeCap": "butt", "strokeDash": [1.3, 1], "interpolate": "monotone"},
      "encoding": {
        "x": {"field": "nm", "type": "quantitative", "scale": {"domain": [200,300,1000,2000,2287], "range": [0,113.3,852.3,1116.3,1192], "nice": false, "zero": false}},
        "y": {"field": "pct", "type": "quantitative", "scale": {"domain": [0, 95.33], "nice": false, "zero": false}},
        "color": {"field": "series", "type": "nominal",
          "scale": {"domain": ["DUV_LLG","UV_LLG","UV_VIS_LLG","VIS_NIR_LLG","Glass Fiber","Not recommended for high radiation power"], "range": ["#1ba3d6","#2e3a8c","#48b42e","#cf2b2b","#6b5a00","#666666"]},
          "legend": {"orient": "none", "legendX": 6, "legendY": -48, "direction": "horizontal", "columns": 6, "title": null, "padding": 0, "symbolType": "stroke", "symbolSize": 961, "symbolStrokeWidth": 5, "labelOffset": 8, "columnPadding": 40, "labelFont": "Liberation Sans Narrow, DejaVu Sans Condensed, sans-serif", "labelFontSize": 15, "labelColor": "#333333", "labelLimit": 400,
            "encode": {"symbols": {"update": {"strokeCap": {"signal": "datum.value === 'Glass Fiber' ? 'round' : 'butt'"}}}}}}
      }
    }
  ]
}
